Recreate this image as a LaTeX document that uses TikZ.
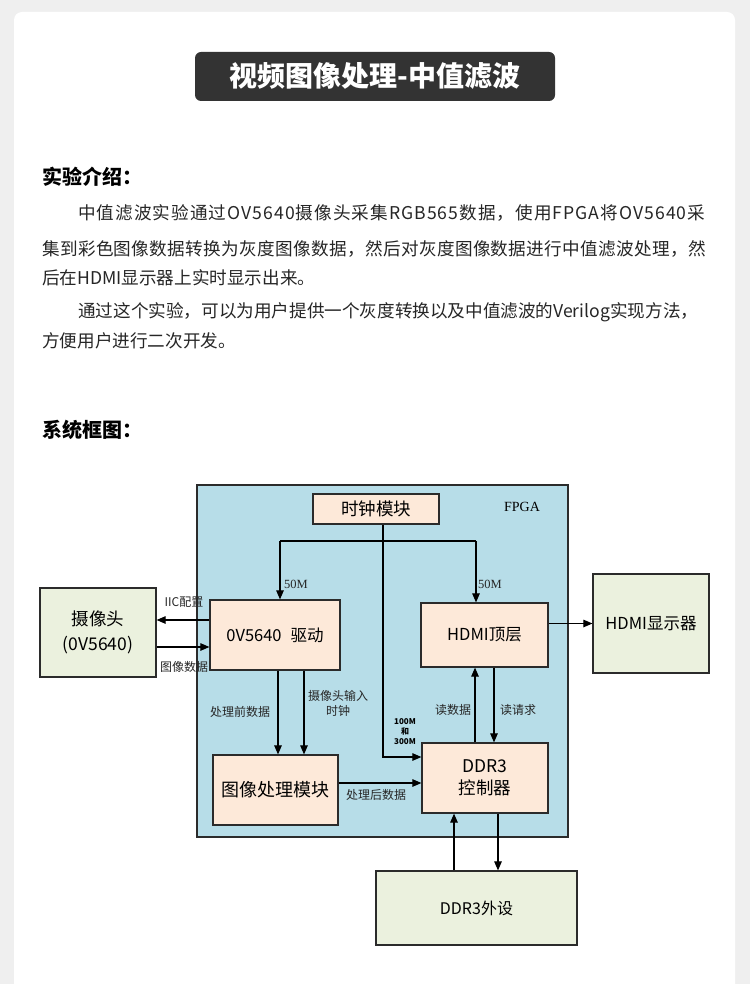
\documentclass[tikz,border=0pt]{standalone}
\usepackage{fontspec}
\setmainfont{Noto Sans CJK SC}
\newfontfamily\serifL{Liberation Serif}
\usetikzlibrary{arrows.meta}
\definecolor{pagebg}{HTML}{EFEFEF}
\definecolor{titlebg}{HTML}{333333}
\definecolor{fpgabg}{HTML}{B7DDE8}
\definecolor{peach}{HTML}{FDE9D9}
\definecolor{pale}{HTML}{EBF1DE}
\definecolor{txt}{HTML}{262626}
\definecolor{edge}{HTML}{2B2B2B}
\begin{document}
\begin{tikzpicture}[x=1pt,y=-1pt,
 box/.style={draw=edge,line width=1.2pt,inner sep=0pt,align=center,text=black},
 mod/.style={box,fill=peach},
 extbox/.style={box,fill=pale},
 arr/.style={line width=1.1pt,draw=black,-{Triangle[length=9pt,width=7.5pt]}},
 ln/.style={line width=1.1pt,draw=black},
 lbl/.style={font=\fontsize{12}{14}\selectfont,inner sep=0pt,text=txt},
 body/.style={font=\fontsize{17.6}{20}\selectfont,anchor=west,inner sep=0pt,text=txt},
 head/.style={font=\bfseries\fontsize{20}{24}\selectfont,anchor=west,inner sep=0pt,text=black}]
\useasboundingbox (0,0) rectangle (750,984);
\fill[pagebg] (0,0) rectangle (750,984);
\begin{scope}
\clip (0,0) rectangle (750,984);
\fill[white, rounded corners=8pt] (14,12) rectangle (735,1010);
\end{scope}
% title
\node[fill=titlebg, rounded corners=6pt, minimum width=360pt, minimum height=49pt, inner sep=0pt, text=white, font=\bfseries\fontsize{28}{30}\selectfont] (title) at (375,76.5) {视频图像处理-中值滤波};
% intro
\node[head] (h1) at (42,177) {实验介绍：};
\node[body] (l1) at (78,213) {\addfontfeature{LetterSpace=6}中值滤波实验通过OV5640摄像头采集RGB565数据，使用FPGA将OV5640采};
\node[body] (l2) at (42,249) {\addfontfeature{LetterSpace=2}集到彩色图像数据转换为灰度图像数据，然后对灰度图像数据进行中值滤波处理，然};
\node[body] (l3) at (42,278) {后在HDMI显示器上实时显示出来。};
\node[body] (l4) at (78,312) {通过这个实验，可以为用户提供一个灰度转换以及中值滤波的Verilog实现方法，};
\node[body] (l5) at (42,341) {方便用户进行二次开发。};
\node[head] (h2) at (42,430) {系统框图：};
% diagram
\node[box, fill=fpgabg, minimum width=371pt, minimum height=352pt] (fpga) at (382.5,661) {};
\node[font=\serifL\fontsize{14}{16}\selectfont, inner sep=0pt] (fpgalbl) at (522,507) {FPGA};
\node[mod, minimum width=126pt, minimum height=30pt, font=\fontsize{17.5}{20}\selectfont] (clk) at (376,509) {时钟模块};
\node[mod, minimum width=130pt, minimum height=70pt, font=\fontsize{16.5}{20}\selectfont] (ov) at (275,635) {0V5640\hspace{9pt}驱动};
\node[mod, minimum width=127pt, minimum height=64pt, font=\fontsize{16.5}{18}\selectfont] (hdmi) at (484.5,635) {HDMI顶层};
\node[extbox, minimum width=116pt, minimum height=89pt, font=\fontsize{17.5}{25}\selectfont] (cam) at (98,632.5) {摄像头\\(0V5640)};
\node[extbox, minimum width=116pt, minimum height=99pt, font=\fontsize{16.5}{18}\selectfont] (disp) at (651,623.5) {HDMI显示器};
\node[mod, minimum width=125pt, minimum height=70pt, font=\fontsize{18}{22}\selectfont] (ip) at (275.5,790) {图像处理模块};
\node[mod, minimum width=126pt, minimum height=70pt, font=\fontsize{17.5}{22}\selectfont] (ddr) at (485,778) {DDR3\\控制器};
\node[extbox, minimum width=201pt, minimum height=74pt, font=\fontsize{16}{18}\selectfont] (ext) at (476.5,908) {DDR3外设};
% clock tree
\coordinate (cm) at (383,541);
\coordinate (cl) at (280,541);
\coordinate (cr) at (476,541);
\coordinate (ck) at (383,757);
\draw[ln] (clk.south -| cm) -- (cm);
\draw[ln] (cl) -- (cr);
\draw[arr] (cl) -- (cl |- ov.north);
\draw[arr] (cr) -- (cr |- hdmi.north);
\draw[arr] (cm) -- (ck) -- (ck -| ddr.west);
% camera
\coordinate (yi) at (0,620);
\coordinate (yd) at (0,647);
\draw[arr] (ov.west |- yi) -- (cam.east |- yi);
\draw[arr] (cam.east |- yd) -- (ov.west |- yd);
\draw[arr] (hdmi.east |- disp.west) -- (disp.west);
% ov to ip
\coordinate (xa) at (278,0);
\coordinate (xb) at (304,0);
\draw[arr] (ov.south -| xa) -- (ip.north -| xa);
\draw[arr] (ov.south -| xb) -- (ip.north -| xb);
\coordinate (yp) at (0,783);
\draw[arr] (ip.east |- yp) -- (ddr.west |- yp);
% ddr <-> hdmi
\coordinate (xr) at (475,0);
\coordinate (xq) at (494,0);
\draw[arr] (ddr.north -| xr) -- (hdmi.south -| xr);
\draw[arr] (hdmi.south -| xq) -- (ddr.north -| xq);
% ddr <-> ext
\coordinate (xu) at (454,0);
\coordinate (xw) at (498,0);
\draw[arr] (ext.north -| xu) -- (ddr.south -| xu);
\draw[arr] (ddr.south -| xw) -- (ext.north -| xw);
% labels
\node[lbl, font=\serifL\fontsize{12.5}{14}\selectfont] (f1) at (296,584) {50M};
\node[lbl, font=\serifL\fontsize{12.5}{14}\selectfont] (f2) at (490,584) {50M};
\node[lbl] (t1) at (184,602) {IIC配置};
\node[lbl] (t2) at (184,667) {图像数据};
\node[lbl] (t3) at (240,712) {处理前数据};
\node[lbl, align=center, font=\fontsize{12}{15}\selectfont] (t4) at (338,703.5) {摄像头输入\\时钟};
\node[lbl] (t5) at (453,710) {读数据};
\node[lbl] (t6) at (518,710) {读请求};
\node[lbl] (t7) at (376,795) {处理后数据};
\node[inner sep=0pt, align=center, font=\bfseries\fontsize{8}{10}\selectfont] (t8) at (405,732) {100M\\和\\300M};
\end{tikzpicture}
\end{document}
